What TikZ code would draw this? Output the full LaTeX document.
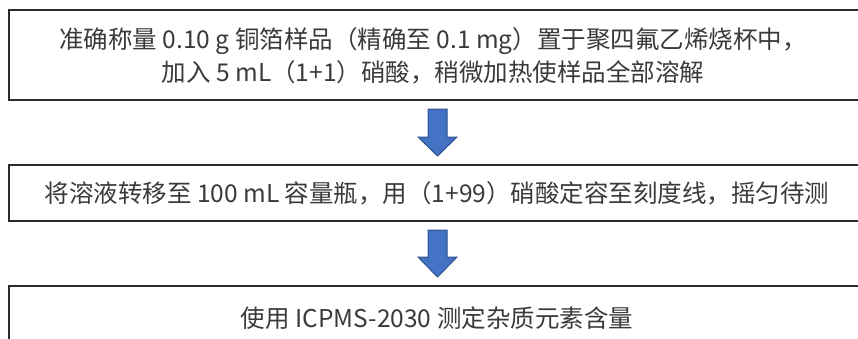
\documentclass[tikz,border=0pt]{standalone}
\usepackage{fontspec}
\setmainfont{Noto Sans CJK SC}
\definecolor{boxline}{HTML}{2B2B2B}
\definecolor{txt}{HTML}{3A3A3A}
\definecolor{arrfill}{HTML}{4472C4}
\definecolor{arrline}{HTML}{2F528F}
\tikzset{
  stepbox/.style={draw=boxline, line width=2pt},
  steptext/.style={text=txt, font=\fontsize{24.5}{33}\selectfont, align=center, inner sep=0pt},
  downarrow/.style={fill=arrfill, draw=arrline, line width=1pt, line join=miter}
}
\begin{document}
\begin{tikzpicture}[x=1pt,y=-1pt]
\useasboundingbox (0,0) rectangle (858,338);
\draw[stepbox] (9,10) rectangle (866,100);
\node[steptext] (t1) at (433,56) {准确称量 0.10 g 铜箔样品（精确至 0.1 mg）置于聚四氟乙烯烧杯中，\\加入 5 mL（1+1）硝酸，稍微加热使样品全部溶解};
\draw[stepbox] (9,165) rectangle (866,221);
\node[steptext] (t2) at (437,193) {将溶液转移至 100 mL 容量瓶，用（1+99）硝酸定容至刻度线，摇匀待测};
\draw[stepbox] (9,286) rectangle (866,345);
\node[steptext] (t3) at (437,318) {使用 ICPMS-2030 测定杂质元素含量};
\draw[downarrow] (428,109) -- (447,109) -- (447,137) -- (457,137) -- (437.5,156) -- (418,137) -- (428,137) -- cycle;
\draw[downarrow] (428,230) -- (447,230) -- (447,257) -- (457,257) -- (437.5,277) -- (418,257) -- (428,257) -- cycle;
\end{tikzpicture}
\end{document}
